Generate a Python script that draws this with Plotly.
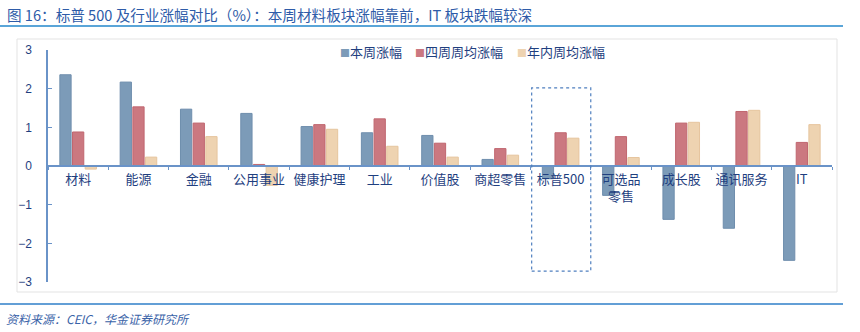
import plotly.graph_objects as go

categories = ["材料", "能源", "金融", "公用事业", "健康护理", "工业", "价值股", "商超零售",
              "标普500", "可选品<br>零售", "成长股", "通讯服务", "IT"]
week_chg = [2.36, 2.17, 1.47, 1.36, 1.02, 0.86, 0.79, 0.17, -0.33, -0.76, -1.38, -1.61, -2.44]
four_week_avg = [0.88, 1.53, 1.11, 0.04, 1.07, 1.22, 0.59, 0.45, 0.86, 0.76, 1.11, 1.41, 0.61]
ytd_week_avg = [-0.08, 0.23, 0.76, -0.50, 0.95, 0.51, 0.23, 0.28, 0.72, 0.22, 1.13, 1.44, 1.07]
series_names = ["本周涨幅", "四周周均涨幅", "年内周均涨幅"]
y_ticks = [-3, -2, -1, 0, 1, 2, 3]

FONT = "Noto Sans CJK SC"
TEXT = "#1F3F7F"
AXIS = "#6A93C8"
colors = ["#7C9BB8", "#CB7880", "#EED3B1"]
borders = ["#6F8EAD", "#C0666F", "#E6C59E"]

fig = go.Figure()
for name, vals, c, bc in zip(series_names, [week_chg, four_week_avg, ytd_week_avg], colors, borders):
    fig.add_trace(go.Bar(x=categories, y=vals, name=name, showlegend=False,
                         marker=dict(color=c, line=dict(color=bc, width=1))))

fig.update_layout(
    width=860, height=332,
    margin=dict(l=48, r=28, t=50, b=50),
    paper_bgcolor="white", plot_bgcolor="white",
    barmode="group", bargap=0.37, bargroupgap=0.11,
    font=dict(family=FONT, color=TEXT, size=12),
    showlegend=False,
    xaxis=dict(anchor="free", position=0.5, showline=True, linecolor=AXIS, linewidth=1.5,
               ticks="outside", tickson="boundaries", ticklen=3, tickcolor=AXIS,
               showgrid=False, zeroline=False, tickangle=0,
               tickfont=dict(size=13, color=TEXT, family=FONT), ticklabelstandoff=2),
    yaxis=dict(range=[-3, 3], tickvals=y_ticks, showline=True, linecolor=AXIS, linewidth=1.5,
               ticks="inside", ticklen=4, tickcolor=AXIS, showgrid=False, zeroline=False,
               tickfont=dict(size=12, color=TEXT, family="Liberation Sans"),
               ticklabelstandoff=12, tickprefix="<b>", ticksuffix="</b>"),
)

shapes = [
    # light chart frame
    dict(type="rect", xref="paper", yref="paper", x0=-31/784, x1=789/784, y0=-10/232, y1=243/232,
         line=dict(color="#E3E3E3", width=1), fillcolor="rgba(0,0,0,0)", layer="below"),
    # title underline
    dict(type="line", xref="paper", yref="paper", x0=-48/784, x1=795/784, y0=256/232, y1=256/232,
         line=dict(color="#5AA5D8", width=2)),
    # bottom rule
    dict(type="line", xref="paper", yref="paper", x0=-48/784, x1=795/784, y0=-22/232, y1=-22/232,
         line=dict(color="#2F7FC8", width=1.5)),
    # dashed highlight around S&P 500
    dict(type="rect", xref="x", yref="y", x0=7.52, x1=8.5, y0=-2.72, y1=2.02,
         line=dict(color="#4F7FBF", width=1.2, dash="dot"), fillcolor="rgba(0,0,0,0)"),
]
fig.update_layout(shapes=shapes)

# legend built from annotations (small square markers like the reference)
legend_x = [338, 413, 515]
for name, c, lx in zip(series_names, colors, legend_x):
    fig.add_annotation(xref="paper", yref="paper", x=(lx - 48) / 784, y=230 / 232,
                       xanchor="left", yanchor="middle", showarrow=False,
                       text=f"<span style='color:{c};font-size:10px'>■</span>{name}",
                       font=dict(size=13, color=TEXT, family=FONT))

fig.add_annotation(xref="paper", yref="paper", x=-43/784, y=268/232, xanchor="left", yanchor="middle",
                   text="图 16：标普 500 及行业涨幅对比（%）：本周材料板块涨幅靠前，IT 板块跌幅较深",
                   showarrow=False, font=dict(size=14.6, color="#2E5BA8", family=FONT))
fig.add_annotation(xref="paper", yref="paper", x=-44/784, y=-36/232, xanchor="left", yanchor="middle",
                   text="<i>资料来源：CEIC，华金证券研究所</i>",
                   showarrow=False, font=dict(size=12, color="#3A63A8", family=FONT))

fig.write_html("out.html")
